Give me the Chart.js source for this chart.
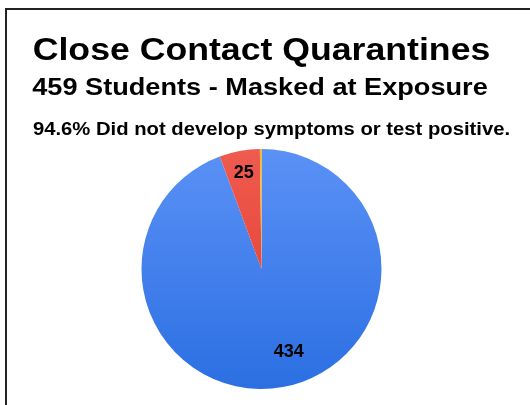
<!DOCTYPE html>
<html>
<head>
<meta charset="utf-8">
<script src="https://cdn.jsdelivr.net/npm/chart.js@4/dist/chart.umd.min.js"></script>
<style>
  html, body { margin: 0; padding: 0; background: #fff; overflow: hidden; }
  #wrap { position: relative; width: 530px; height: 405px; }
  #frame { position: absolute; left: 5px; top: 8px; width: 600px; height: 500px; border: 2px solid #222; }
  #c { position: absolute; left: 0; top: 0; }
</style>
</head>
<body>
<div id="wrap">
  <div id="frame"></div>
  <canvas id="c" width="530" height="405"></canvas>
</div>
<script>
// data
var categories = ['Did not develop symptoms or test positive', 'Developed symptoms', 'Tested positive'];
var students = [434, 25, 1];
var shownLabels = ['434', '25', ''];
var topColors = ['#5b91f6', '#ef5b4f', '#fbbc04'];
var bottomColors = ['#2b6fe2', '#e2372b', '#fbbc04'];

var titleText = 'Close Contact Quarantines';
var subtitleText = '459 Students - Masked at Exposure';
var noteText = '94.6% Did not develop symptoms or test positive.';

var FONT = '"Liberation Sans", Arial, sans-serif';

// heading lines: text, size, centre x, baseline, horizontal stretch
var headings = [
  { text: titleText, size: 31, x: 261.5, y: 60, sx: 1.15 },
  { text: subtitleText, size: 23, x: 260, y: 94.5, sx: 1.18 },
  { text: noteText, size: 18, x: 271.5, y: 135, sx: 1.125 }
];

function sliceFill(ctx) {
  var chart = ctx.chart;
  var area = chart.chartArea;
  if (!area) return topColors[ctx.dataIndex];
  var g = chart.ctx.createLinearGradient(0, area.top, 0, area.bottom);
  g.addColorStop(0, topColors[ctx.dataIndex]);
  g.addColorStop(1, bottomColors[ctx.dataIndex]);
  return g;
}

var headingPlugin = {
  id: 'headings',
  afterDraw: function (chart) {
    var ctx = chart.ctx;
    headings.forEach(function (h) {
      ctx.save();
      ctx.font = 'bold ' + h.size + 'px ' + FONT;
      ctx.fillStyle = '#000';
      ctx.textAlign = 'center';
      ctx.textBaseline = 'alphabetic';
      ctx.translate(h.x, h.y);
      ctx.scale(h.sx, 1);
      ctx.fillText(h.text, 0, 0);
      ctx.restore();
    });
  }
};

// value labels inside the slices
var valuePlugin = {
  id: 'values',
  afterDatasetsDraw: function (chart) {
    var ctx = chart.ctx;
    var meta = chart.getDatasetMeta(0);
    ctx.save();
    ctx.font = 'bold 18px ' + FONT;
    ctx.fillStyle = '#000';
    ctx.textAlign = 'center';
    ctx.textBaseline = 'middle';
    meta.data.forEach(function (arc, i) {
      if (!shownLabels[i]) return;
      var p = arc.getProps(['x', 'y', 'startAngle', 'endAngle', 'outerRadius'], true);
      var mid = (p.startAngle + p.endAngle) / 2;
      var f = 0.81;
      if (i === 0) { mid -= 0.14; f = 0.73; }
      ctx.fillText(shownLabels[i], p.x + Math.cos(mid) * p.outerRadius * f, p.y + Math.sin(mid) * p.outerRadius * f);
    });
    ctx.restore();
  }
};

new Chart(document.getElementById('c'), {
  type: 'pie',
  data: {
    labels: categories,
    datasets: [{
      data: students,
      backgroundColor: sliceFill,
      borderWidth: 0
    }]
  },
  options: {
    responsive: false,
    animation: false,
    layout: { padding: { top: 149, bottom: 16, left: 0, right: 7 } },
    plugins: {
      legend: { display: false },
      tooltip: { enabled: false },
      title: { display: false }
    }
  },
  plugins: [headingPlugin, valuePlugin]
});
</script>
</body>
</html>
